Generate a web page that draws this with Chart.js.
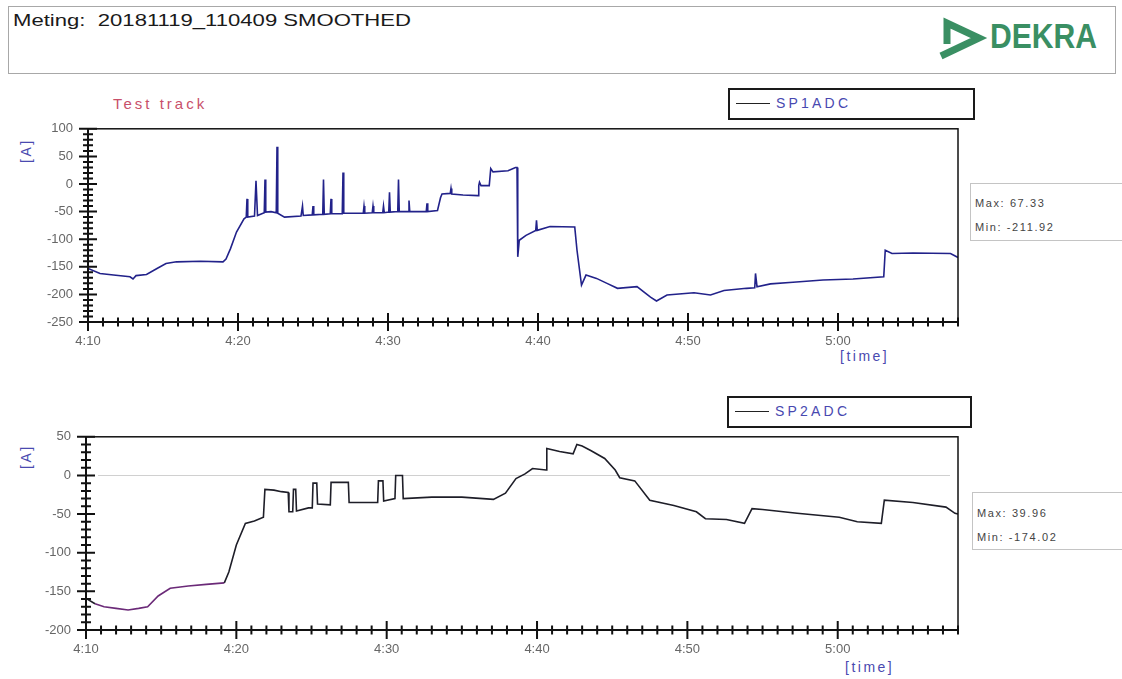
<!DOCTYPE html>
<html>
<head>
<meta charset="utf-8">
<script src="https://cdn.jsdelivr.net/npm/chart.js@4.4.1/dist/chart.umd.min.js"></script>
<style>
  body { margin: 0; background: #fff; font-family: "Liberation Sans", Arial, sans-serif; }
  #page { position: relative; width: 1122px; height: 679px; overflow: hidden; }
  .abs { position: absolute; white-space: nowrap; }
  #header { left: 8px; top: 6px; width: 1106px; height: 66px; border: 1px solid #a8a8a8; }
  #title { left: 13px; top: 11px; font-size: 17px; color: #1a1a1a; transform: scaleX(1.3); transform-origin: left top; }
  #dekra { left: 990px; top: 16px; font-size: 35px; font-weight: bold; color: #3a8f63; transform: scaleX(0.86); transform-origin: left top; }
  .legend { border: 2px solid #1a1a1a; height: 28px; }
  .legend .ln { position: absolute; left: 6px; top: 13px; width: 34px; border-top: 1.5px solid #222; }
  .legend .tx { position: absolute; left: 46px; top: 5px; font-size: 14px; letter-spacing: 3.2px; color: #4848b0; }
  .stats { border: 1px solid #c4c4c4; border-right: none; width: 160px; height: 56px; font-size: 11px; color: #444; letter-spacing: 1.6px; }
  .stats div { position: absolute; left: 4px; }
  .unit { font-size: 14px; color: #4a4ab0; letter-spacing: 2.5px; }
  canvas { position: absolute; left: 0; }
</style>
</head>
<body>
<div id="page">
  <div id="header" class="abs"></div>
  <div id="title" class="abs">Meting:&nbsp; 20181119_110409 SMOOTHED</div>
  <svg class="abs" style="left:0;top:0" width="1122" height="80">
    <polyline points="947,44 947,23 979,38 941,56" fill="none" stroke="#3a8f63" stroke-width="7" stroke-linejoin="miter"/>
  </svg>
  <div id="dekra" class="abs">DEKRA</div>

  <div class="abs" style="left:113px;top:95px;font-size:15px;color:#c8506a;letter-spacing:3px;">Test track</div>

  <div class="abs legend" style="left:728px;top:88px;width:243px;">
    <div class="ln"></div><div class="tx" id="leg1"></div>
  </div>
  <div class="abs legend" style="left:727px;top:396px;width:241px;">
    <div class="ln"></div><div class="tx" id="leg2"></div>
  </div>

  <div class="abs stats" style="left:970px;top:183px;">
    <div style="top:13px" id="max1"></div><div style="top:37px" id="min1"></div>
  </div>
  <div class="abs stats" style="left:972px;top:492px;">
    <div style="top:14px" id="max2"></div><div style="top:38px" id="min2"></div>
  </div>

  <div class="abs unit" style="left:18px;top:143px;transform:rotate(-90deg);transform-origin:10px 10px;">[A]</div>
  <div class="abs unit" style="left:18px;top:449px;transform:rotate(-90deg);transform-origin:10px 10px;">[A]</div>
  <div class="abs unit" style="left:840px;top:348px;">[time]</div>
  <div class="abs unit" style="left:845px;top:659px;">[time]</div>

  <canvas id="c1" width="980" height="254" style="top:106px"></canvas>
  <canvas id="c2" width="980" height="254" style="top:414px"></canvas>
</div>

<script>
'use strict';
// minutes after 4:10
let seriesNames = ['SP1ADC', 'SP2ADC'];
let maxLabels = ['Max: 67.33', 'Max: 39.96'];
let minLabels = ['Min: -211.92', 'Min: -174.02'];

let sp1Time = [0,0.8,1.7,2.8,3.0,3.2,3.9,4.6,5.2,5.9,7.5,9.0,9.2,9.5,9.9,10.4,10.55,10.6,10.65,11.1,11.2,11.3,11.75,11.8,11.85,12.2,12.55,12.6,12.65,13.1,14.2,14.3,14.35,14.95,15.0,15.05,15.65,15.7,15.75,16.15,16.2,16.25,16.95,17.0,17.05,18.35,18.4,18.45,18.95,19.0,19.05,19.65,19.7,19.75,20.05,20.1,20.15,20.65,20.7,20.75,21.35,21.4,21.45,22.55,22.6,22.65,23.3,23.5,23.6,24.15,24.2,24.25,25.0,26.0,26.05,26.1,26.2,26.75,26.85,27.0,28.0,28.5,28.6,28.65,28.75,29.2,29.85,29.9,29.95,30.8,32.45,32.6,32.9,33.2,33.9,34.6,35.3,36.6,37.5,37.9,38.6,40.4,41.5,42.4,43.9,44.45,44.5,44.6,45.5,47.0,49.0,51.0,53.05,53.15,53.6,55.0,57.5,58.0];
let sp1Amp = [-153,-162,-165,-168,-172,-166,-164,-153,-144,-141,-140,-141,-136,-117,-87,-63,-60,-27,-60,-58,6,-57,-52,8,-51,-50,-52,67.33,-53,-60,-58,-40,-57,-56,-40,-56,-55,8,-55,-54,-27,-54,-54,21,-53,-53,-40,-53,-52,-40,-52,-52,-40,-52,-51,-15,-51,-50,8,-50,-50,-30,-50,-50,-35,-50,-48,-25,-18,-17,-8,-18,-20,-21,-3,3,-3,-3,28,22,24,30,30,-132,-102,-93,-84,-66,-84,-77,-78,-120,-183,-165,-171,-180,-189,-186,-205,-211.92,-201,-197,-201,-193,-189,-188,-162,-186,-181,-178,-174,-172,-168,-120,-126,-125,-126,-133];

let sp2Time = [0,0.6,1.2,2.0,2.8,3.5,4.1,4.8,5.6,6.8,8.0,9.2,9.5,10.0,10.6,11.2,11.8,11.9,12.5,13.0,13.45,13.5,13.75,13.8,13.95,14.0,14.8,15.05,15.1,15.35,15.4,16.25,16.3,17.45,17.5,19.4,19.45,19.75,19.8,20.55,20.6,21.05,21.1,23.0,25.0,27.1,27.9,28.6,29.2,29.7,30.6,30.65,31.5,32.4,32.65,33.0,33.6,34.5,35.2,35.5,36.5,37.5,39.1,40.6,41.2,42.6,43.8,44.3,45.0,47.3,50.1,51.3,52.9,53.1,55.0,57.2,57.8,58.0];
let sp2Amp = [-159,-166,-170,-172,-174.02,-172,-170,-156,-146,-143,-141,-139,-125,-90,-62,-59,-54,-18,-19,-21,-22,-47,-47,-18,-18,-46,-42,-42,-10,-10,-37,-38,-9,-9,-35,-35,-7,-7,-33,-30,0,0,-30,-28,-28,-31,-23,-4,2,9,7,35,31,28,39.96,38,32,22,7,-3,-7,-32,-39,-47,-56,-57,-62,-43,-44,-49,-54,-60,-62,-32,-35,-41,-49,-50];

let yRange1 = [-250, 100];
let yRange2 = [-200, 50];

document.getElementById('leg1').textContent = seriesNames[0];
document.getElementById('leg2').textContent = seriesNames[1];
document.getElementById('max1').textContent = maxLabels[0];
document.getElementById('min1').textContent = minLabels[0];
document.getElementById('max2').textContent = maxLabels[1];
document.getElementById('min2').textContent = minLabels[1];

function timeLabel(m) {
    let total = 10 + m;
    return (4 + Math.floor(total / 60)) + ':' + String(total % 60).padStart(2, '0');
}

// frame + crossing tick marks like the original plot
const frameTicks = {
    id: 'frameTicks',
    beforeDatasetsDraw(chart, args, opts) {
        if (!opts.zeroLine) return;
        let {ctx, chartArea: a, scales: {y}} = chart;
        let py = Math.round(y.getPixelForValue(0)) + 0.5;
        ctx.save();
        ctx.strokeStyle = '#d0d0d0';
        ctx.lineWidth = 1;
        ctx.beginPath();
        ctx.moveTo(a.left + 12, py);
        ctx.lineTo(a.right - 8, py);
        ctx.stroke();
        ctx.restore();
    },
    afterDraw(chart) {
        let {ctx, chartArea: a, scales: {x, y}} = chart;
        ctx.save();
        ctx.strokeStyle = '#111';
        ctx.lineWidth = 1.5;
        ctx.strokeRect(a.left, a.top, a.right - a.left, a.bottom - a.top);
        ctx.lineWidth = 2;
        ctx.beginPath();
        x.ticks.forEach(t => {
            let px = x.getPixelForValue(t.value);
            let h = t.value % 10 === 0 ? 9 : 4.5;
            ctx.moveTo(px, a.bottom - h);
            ctx.lineTo(px, a.bottom + h);
        });
        y.ticks.forEach(t => {
            let py = y.getPixelForValue(t.value);
            let w = t.value % 50 === 0 ? 9 : 5;
            ctx.moveTo(a.left - w, py);
            ctx.lineTo(a.left + w, py);
        });
        ctx.moveTo(a.left, a.top);
        ctx.lineTo(a.left, a.bottom);
        ctx.lineTo(a.right, a.bottom);
        ctx.stroke();
        ctx.restore();
    }
};

function makeChart(id, times, amps, yRange, leftW, color, zeroLine) {
    let points = times.map((t, i) => ({x: t, y: amps[i]}));
    return new Chart(document.getElementById(id), {
        type: 'line',
        data: {
            datasets: [{
                label: id,
                data: points,
                borderColor: color,
                segment: zeroLine ? {
                    borderColor: c => (c.p0.parsed.x >= 0.6 && c.p0.parsed.x < 9.2) ? '#6b2a78' : color
                } : undefined,
                borderWidth: 1.6,
                pointRadius: 0,
                tension: 0,
                fill: false
            }]
        },
        options: {
            responsive: false,
            animation: false,
            layout: {padding: {top: 10, right: 22, left: 0, bottom: 0}},
            plugins: {
                legend: {display: false},
                tooltip: {enabled: false},
                frameTicks: {zeroLine: zeroLine}
            },
            scales: {
                x: {
                    type: 'linear',
                    min: 0,
                    max: 58,
                    grid: {display: false, drawTicks: false},
                    border: {display: false},
                    afterFit: s => { s.height = 38; },
                    ticks: {
                        stepSize: 1,
                        autoSkip: false,
                        maxRotation: 0,
                        padding: 12,
                        color: '#666',
                        font: {family: 'Liberation Sans', size: 13},
                        callback: v => v % 10 === 0 ? timeLabel(v) : ''
                    }
                },
                y: {
                    min: yRange[0],
                    max: yRange[1],
                    grid: {display: false, drawTicks: false},
                    border: {display: false},
                    afterFit: s => { s.width = leftW; },
                    ticks: {
                        stepSize: 10,
                        autoSkip: false,
                        padding: 15,
                        color: '#666',
                        font: {family: 'Liberation Sans', size: 13},
                        callback: v => v % 50 === 0 ? String(v) : ''
                    }
                }
            }
        },
        plugins: [frameTicks]
    });
}

makeChart('c1', sp1Time, sp1Amp, yRange1, 88, '#22228a', false);
makeChart('c2', sp2Time, sp2Amp, yRange2, 86, '#1e1e28', true);
</script>
</body>
</html>
